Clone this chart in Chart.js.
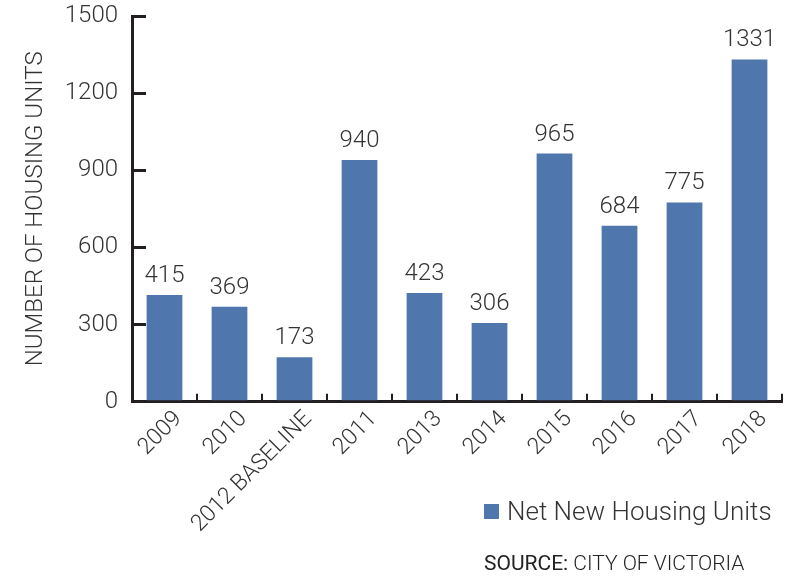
<!DOCTYPE html>
<html>
<head>
<meta charset="utf-8">
<script src="https://cdn.jsdelivr.net/npm/chart.js@4"></script>
<style>
  body { margin: 0; background: #fff; }
  #wrap { position: relative; width: 788px; height: 576px; }
  .legend { position: absolute; left: 484px; top: 496px; font: 300 26px Roboto, "Liberation Sans", sans-serif; color: #333; white-space: nowrap; }
  .legend span.box { display: inline-block; width: 15px; height: 15px; background: #4f76ad; margin-right: 8px; vertical-align: 1px; }
  .source { position: absolute; left: 484px; top: 551px; font: 300 21px Roboto, "Liberation Sans", sans-serif; color: #222; white-space: nowrap; }
  .source b { font-weight: 400; }
</style>
</head>
<body>
<div id="wrap">
  <canvas id="chart" width="788" height="576"></canvas>
  <div class="legend"><span class="box"></span>Net New Housing Units</div>
  <div class="source"><b>SOURCE:</b> CITY OF VICTORIA</div>
</div>
<script>
// categories and values
const years = ["2009", "2010", "2012 BASELINE", "2011", "2013", "2014", "2015", "2016", "2017", "2018"];
const netNewUnits = [415, 369, 173, 940, 423, 306, 965, 684, 775, 1331];
const yTicks = [0, 300, 600, 900, 1200, 1500];

const barColor = "#4f76ad";
const textColor = "#333";
const axisColor = "#231f20";
const font = "Roboto, 'Liberation Sans', sans-serif";

// value labels above each bar
const valueLabels = {
  id: "valueLabels",
  afterDatasetsDraw(chart) {
    const ctx = chart.ctx;
    const meta = chart.getDatasetMeta(0);
    ctx.save();
    ctx.font = "300 24px " + font;
    ctx.fillStyle = textColor;
    ctx.textAlign = "center";
    ctx.textBaseline = "bottom";
    meta.data.forEach((bar, i) => {
      ctx.fillText(netNewUnits[i], bar.x, bar.y - 7);
    });
    ctx.restore();
  }
};

const ctx = document.getElementById("chart").getContext("2d");
new Chart(ctx, {
  type: "bar",
  data: {
    labels: years,
    datasets: [{
      label: "Net New Housing Units",
      data: netNewUnits,
      backgroundColor: barColor,
      barPercentage: 0.55,
      categoryPercentage: 1
    }]
  },
  options: {
    responsive: false,
    animation: false,
    layout: { padding: { top: 0, right: 6, left: 0, bottom: 26 } },
    plugins: {
      legend: { display: false },
      tooltip: { enabled: false }
    },
    scales: {
      x: {
        grid: {
          drawOnChartArea: false,
          color: axisColor,
          lineWidth: 2,
          tickLength: -8,
          offset: true
        },
        border: { color: axisColor, width: 3 },
        ticks: {
          color: textColor,
          font: { family: font, size: 23, weight: 300 },
          minRotation: 45,
          maxRotation: 45,
          padding: 12,
          labelOffset: 14,
          autoSkip: false
        }
      },
      y: {
        min: 0,
        max: 1500,
        afterBuildTicks: scale => { scale.ticks = yTicks.map(v => ({ value: v })); },
        afterFit: scale => {
          scale.width = 132;
          scale.paddingTop = 16;
        },
        grid: {
          drawOnChartArea: false,
          color: axisColor,
          lineWidth: 3,
          tickLength: -14
        },
        border: { color: axisColor, width: 3 },
        ticks: {
          color: textColor,
          font: { family: font, size: 24, weight: 300 },
          padding: 28,
          callback: v => String(v)
        },
        title: {
          display: true,
          text: "NUMBER OF HOUSING UNITS",
          color: textColor,
          font: { family: font, size: 24, weight: 300 },
          padding: { top: 22, bottom: 0 }
        }
      }
    }
  },
  plugins: [valueLabels]
});
</script>
</body>
</html>
